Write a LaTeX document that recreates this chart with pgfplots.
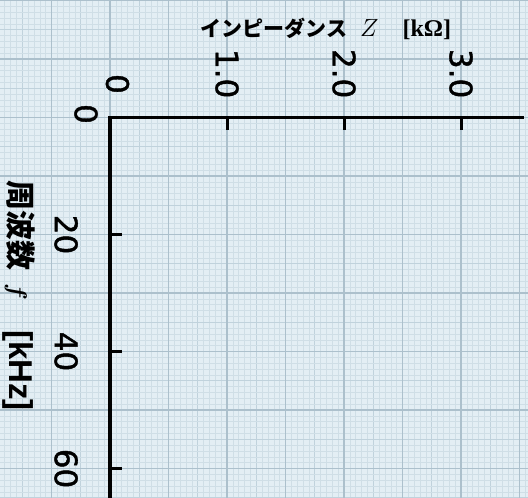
\documentclass[border=0pt]{standalone}
\usepackage{pgfplots}
\pgfplotsset{compat=1.18}
\usepackage{fontspec}
\setmainfont{DejaVu Sans}
\newfontfamily\numfont{DejaVu Sans}[FakeBold=1.3]
\newfontfamily\jp{Noto Sans CJK JP}
\newfontfamily\serifb{Liberation Serif}
\newfontfamily\sansb{Liberation Sans}
\definecolor{gbg}{RGB}{227,238,244}
\definecolor{gminor}{RGB}{207,222,230}
\definecolor{gmid}{RGB}{192,210,220}
\definecolor{gmajor}{RGB}{172,192,204}
\begin{document}
\begin{tikzpicture}
\path[use as bounding box] (0,0) rectangle (528bp,-498bp);
% graph paper background
\begin{axis}[
  at={(0,0)}, anchor=north west,
  scale only axis, width=528bp, height=498bp,
  xmin=-0.9402, xmax=3.5726, ymin=-65.04, ymax=20.09,
  axis line style={draw=none},
  tick style={draw=none},
  xticklabel=\empty, yticklabel=\empty,
  xtick={-0.75,-0.25,...,3.5}, ytick={-65,-55,...,20},
  minor xtick={-0.9,-0.85,...,3.56},
  minor ytick={-65,-64,...,20},
  grid=both,
  major grid style={gmid, line width=0.8bp},
  minor grid style={gminor, line width=0.6bp},
  extra x ticks={-0.5,0,...,3.5},
  extra y ticks={-60,-50,...,20},
  extra tick style={grid=major, major grid style={gmajor, line width=1.1bp}},
  extra x tick labels={}, extra y tick labels={},
  axis background/.style={fill=gbg},
]
\end{axis}
% main axes
\begin{axis}[
  at={(110bp,-117.5bp)}, anchor=north west,
  scale only axis, width=412bp, height=380.5bp,
  xmin=0, xmax=3.5214, ymin=-65.04, ymax=0,
  axis x line*=top, axis y line*=left,
  axis line style={line width=3bp, -, line cap=rect, black},
  tick align=inside, major tick length=12bp,
  every tick/.style={black, line width=3bp},
  xtick={1,2,3}, xticklabels={1.0,2.0,3.0},
  ytick={-20,-40,-60}, yticklabels={20,40,60},
  xticklabel style={rotate=-90, anchor=east, inner sep=0pt, font=\numfont\fontsize{31bp}{36bp}\selectfont},
  yticklabel style={rotate=-90, anchor=north, inner sep=0pt, font=\numfont\fontsize{31bp}{36bp}\selectfont},
  xticklabel shift=19bp, yticklabel shift=32bp,
  clip=false,
  every axis x label/.style={at={(axis description cs:0.524,1.2326)}, anchor=center},
  every axis y label/.style={at={(axis description cs:-0.2209,0.532)}, anchor=center, rotate=-90},
  xlabel={{\jp\bfseries\fontsize{21bp}{24bp}\selectfont インピーダンス}\hspace{13bp}{\fontsize{23bp}{26bp}\selectfont$Z$}\hspace{24bp}{\serifb\bfseries\fontsize{24bp}{28bp}\selectfont [kΩ]}},
  ylabel={{\jp\bfseries\fontsize{30bp}{34bp}\selectfont 周波数}\hspace{13bp}{\fontsize{28bp}{32bp}\selectfont\boldmath$f$}\hspace{30bp}{\sansb\bfseries\fontsize{33bp}{38bp}\selectfont [kHz]}},
]
\addplot[draw=none] coordinates {(0,0)};
\node[rotate=-90, inner sep=0pt, font=\numfont\fontsize{31bp}{36bp}\selectfont] at (axis cs:0.064,5.73) {0};
\node[rotate=-90, inner sep=0pt, font=\numfont\fontsize{31bp}{36bp}\selectfont] at (axis cs:-0.205,0.6) {0};
\end{axis}
\end{tikzpicture}
\end{document}
